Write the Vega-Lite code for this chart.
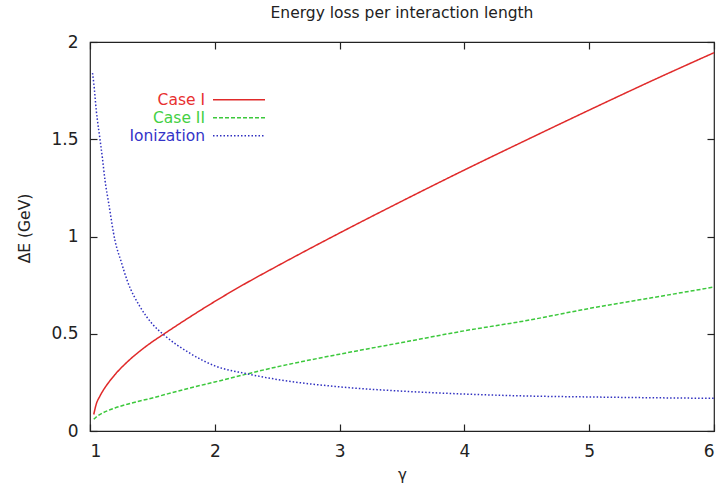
{
  "$schema": "https://vega.github.io/schema/vega-lite/v6.json",
  "width": 624,
  "height": 389,
  "autosize": {"type": "none"},
  "padding": {"left": 90, "top": 42, "right": 4, "bottom": 57},
  "title": {"text": "Energy loss per interaction length", "fontSize": 15.5, "fontWeight": "normal", "font": "DejaVu Sans", "color": "#222222", "offset": 12, "anchor": "middle"},
  "config": {
    "font": "DejaVu Sans",
    "view": {"stroke": "#222222", "strokeWidth": 1.2},
    "axis": {"grid": false, "domain": false, "tickColor": "#222222", "tickSize": -7, "tickWidth": 1.2, "labelPadding": 19, "labelFontSize": 17, "labelColor": "#222222", "labelFont": "DejaVu Sans", "titleFont": "DejaVu Sans", "titleFontSize": 15, "titleFontWeight": "normal", "titleColor": "#222222"}
  },
  "data": {"values": [
    {"gamma": 1.03, "dE": 0.085, "series": "Case I"},
    {"gamma": 1.05, "dE": 0.138, "series": "Case I"},
    {"gamma": 1.08, "dE": 0.18, "series": "Case I"},
    {"gamma": 1.1, "dE": 0.203, "series": "Case I"},
    {"gamma": 1.15, "dE": 0.25, "series": "Case I"},
    {"gamma": 1.2, "dE": 0.29, "series": "Case I"},
    {"gamma": 1.3, "dE": 0.356, "series": "Case I"},
    {"gamma": 1.4, "dE": 0.411, "series": "Case I"},
    {"gamma": 1.5, "dE": 0.459, "series": "Case I"},
    {"gamma": 1.6, "dE": 0.502, "series": "Case I"},
    {"gamma": 1.8, "dE": 0.586, "series": "Case I"},
    {"gamma": 2.0, "dE": 0.666, "series": "Case I"},
    {"gamma": 2.25, "dE": 0.76, "series": "Case I"},
    {"gamma": 2.5, "dE": 0.848, "series": "Case I"},
    {"gamma": 3.0, "dE": 1.018, "series": "Case I"},
    {"gamma": 3.5, "dE": 1.182, "series": "Case I"},
    {"gamma": 4.0, "dE": 1.342, "series": "Case I"},
    {"gamma": 4.5, "dE": 1.497, "series": "Case I"},
    {"gamma": 5.0, "dE": 1.65, "series": "Case I"},
    {"gamma": 5.5, "dE": 1.8, "series": "Case I"},
    {"gamma": 6.0, "dE": 1.945, "series": "Case I"},
    {"gamma": 1.03, "dE": 0.06, "series": "Case II"},
    {"gamma": 1.05, "dE": 0.072, "series": "Case II"},
    {"gamma": 1.1, "dE": 0.092, "series": "Case II"},
    {"gamma": 1.2, "dE": 0.118, "series": "Case II"},
    {"gamma": 1.3, "dE": 0.138, "series": "Case II"},
    {"gamma": 1.5, "dE": 0.17, "series": "Case II"},
    {"gamma": 1.75, "dE": 0.213, "series": "Case II"},
    {"gamma": 2.0, "dE": 0.252, "series": "Case II"},
    {"gamma": 2.5, "dE": 0.33, "series": "Case II"},
    {"gamma": 3.0, "dE": 0.395, "series": "Case II"},
    {"gamma": 3.5, "dE": 0.455, "series": "Case II"},
    {"gamma": 4.0, "dE": 0.515, "series": "Case II"},
    {"gamma": 4.5, "dE": 0.568, "series": "Case II"},
    {"gamma": 5.0, "dE": 0.63, "series": "Case II"},
    {"gamma": 5.5, "dE": 0.685, "series": "Case II"},
    {"gamma": 6.0, "dE": 0.74, "series": "Case II"},
    {"gamma": 1.02, "dE": 1.84, "series": "Ionization"},
    {"gamma": 1.03, "dE": 1.79, "series": "Ionization"},
    {"gamma": 1.05, "dE": 1.65, "series": "Ionization"},
    {"gamma": 1.08, "dE": 1.5, "series": "Ionization"},
    {"gamma": 1.1, "dE": 1.4, "series": "Ionization"},
    {"gamma": 1.12, "dE": 1.29, "series": "Ionization"},
    {"gamma": 1.15, "dE": 1.17, "series": "Ionization"},
    {"gamma": 1.2, "dE": 0.98, "series": "Ionization"},
    {"gamma": 1.25, "dE": 0.87, "series": "Ionization"},
    {"gamma": 1.3, "dE": 0.77, "series": "Ionization"},
    {"gamma": 1.4, "dE": 0.64, "series": "Ionization"},
    {"gamma": 1.5, "dE": 0.55, "series": "Ionization"},
    {"gamma": 1.6, "dE": 0.49, "series": "Ionization"},
    {"gamma": 1.8, "dE": 0.4, "series": "Ionization"},
    {"gamma": 2.0, "dE": 0.335, "series": "Ionization"},
    {"gamma": 2.25, "dE": 0.295, "series": "Ionization"},
    {"gamma": 2.5, "dE": 0.265, "series": "Ionization"},
    {"gamma": 3.0, "dE": 0.227, "series": "Ionization"},
    {"gamma": 3.5, "dE": 0.205, "series": "Ionization"},
    {"gamma": 4.0, "dE": 0.19, "series": "Ionization"},
    {"gamma": 4.5, "dE": 0.18, "series": "Ionization"},
    {"gamma": 5.0, "dE": 0.175, "series": "Ionization"},
    {"gamma": 5.5, "dE": 0.171, "series": "Ionization"},
    {"gamma": 6.0, "dE": 0.168, "series": "Ionization"}
  ]},
  "layer": [
    {
      "mark": {"type": "line", "strokeWidth": 1.5, "interpolate": "monotone"},
      "encoding": {
        "x": {"field": "gamma", "type": "quantitative", "scale": {"domain": [1, 6], "nice": false, "zero": false},
              "axis": {"title": "γ", "values": [1, 2, 3, 4, 5, 6], "titlePadding": 8}},
        "y": {"field": "dE", "type": "quantitative", "scale": {"domain": [0, 2], "nice": false, "zero": false},
              "axis": {"title": "ΔE (GeV)", "titleFontSize": 15.5, "values": [0, 0.5, 1, 1.5, 2], "format": "~g", "titlePadding": 18, "titleY": 186}},
        "color": {"field": "series", "type": "nominal",
                  "scale": {"domain": ["Case I", "Case II", "Ionization"], "range": ["#e02a2a", "#3cc83c", "#3030c0"]},
                  "legend": {"orient": "none", "legendX": 115, "legendY": 50, "title": null, "padding": 0,
                             "symbolType": "M-5.2,0H5.2", "symbolSize": 100, "symbolStrokeWidth": 1.5,
                             "labelFontSize": 15.5, "labelFont": "DejaVu Sans", "rowPadding": 1,
                             "encode": {"labels": {"update": {"x": {"value": 0}, "align": {"value": "right"},
                                          "fill": {"signal": "datum.value === 'Case I' ? '#e83030' : datum.value === 'Case II' ? '#44d044' : '#3434c8'"}}},
                                        "symbols": {"update": {"x": {"value": 34}}}}}},
        "strokeDash": {"field": "series", "type": "nominal",
                       "scale": {"domain": ["Case I", "Case II", "Ionization"], "range": [[1, 0], [4, 2], [1.5, 2]]},
                       "legend": {"orient": "none", "legendX": 115, "legendY": 50, "title": null, "padding": 0,
                             "symbolType": "M-5.2,0H5.2", "symbolSize": 100, "symbolStrokeWidth": 1.5,
                             "labelFontSize": 15.5, "labelFont": "DejaVu Sans", "rowPadding": 1,
                             "encode": {"labels": {"update": {"x": {"value": 0}, "align": {"value": "right"},
                                          "fill": {"signal": "datum.value === 'Case I' ? '#e83030' : datum.value === 'Case II' ? '#44d044' : '#3434c8'"}}},
                                        "symbols": {"update": {"x": {"value": 34}}}}}}
      }
    },
    {
      "mark": {"type": "line", "opacity": 0},
      "encoding": {
        "x": {"field": "gamma", "type": "quantitative", "scale": {"domain": [1, 6], "nice": false, "zero": false},
              "axis": {"orient": "top", "title": null, "labels": false, "values": [1, 2, 3, 4, 5, 6]}},
        "y": {"field": "dE", "type": "quantitative", "scale": {"domain": [0, 2], "nice": false, "zero": false},
              "axis": {"orient": "right", "title": null, "labels": false, "values": [0, 0.5, 1, 1.5, 2]}},
        "detail": {"field": "series", "type": "nominal"}
      }
    }
  ],
  "resolve": {"axis": {"x": "independent", "y": "independent"}}
}
